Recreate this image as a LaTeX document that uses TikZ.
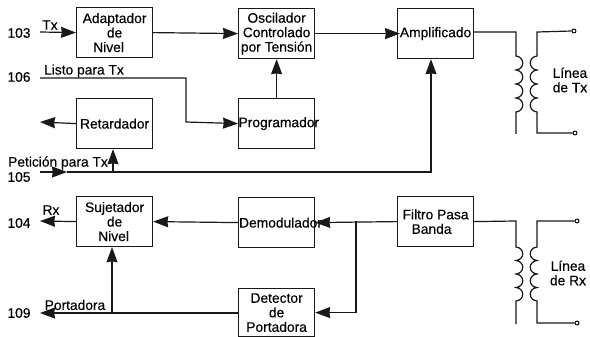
\documentclass[tikz,border=0pt]{standalone}
\usepackage{fontspec}
\setmainfont{Liberation Sans}
\newfontfamily\scanfont[FakeBold=0.3]{Liberation Sans}
\usetikzlibrary{arrows.meta,calc}
\tikzset{
  blockbox/.style={draw=black!90,line width=1.2pt,minimum width=76pt,minimum height=50pt,inner sep=0pt,align=center,font=\scanfont\fontsize{13.8}{14.5}\selectfont,anchor=north west},
  lbl/.style={inner sep=0pt,font=\scanfont\fontsize{13.8}{14.5}\selectfont,align=center,text=black},
  wire/.style={line width=1.2pt,draw=black!90},
  arr/.style={wire,-{Stealth[length=15pt,width=11pt,inset=0.8pt]}},
  term/.style={circle,draw=black,line width=0.9pt,fill=white,inner sep=0pt,minimum size=4pt},
}
\begin{document}
\begin{tikzpicture}[x=1pt,y=-1pt]
\useasboundingbox (0,0) rectangle (590,337);
% blocks
\node[blockbox] (adapt) at (76,7) {Adaptador\\de\hspace*{12pt}\\Nivel\hspace*{12pt}};
\node[blockbox] (osc) at (238,8) {Oscilador\\Controlado\\por Tensión};
\node[blockbox] (amp) at (397,8) {\makebox[76pt][c]{Amplificado}};
\node[blockbox] (ret) at (76,98) {Retardador};
\node[blockbox] (prog) at (238,98) {\makebox[76pt][l]{Programador}};
\node[blockbox] (suj) at (76,196) {Sujetador\\de\hspace*{8pt}\\Nivel\hspace*{2pt}};
\node[blockbox] (dem) at (238,197) {\makebox[76pt][l]{\hspace*{0.5pt}Demodulador}};
\node[blockbox] (fil) at (397,196) {Filtro Pasa\\Banda\hspace*{8pt}};
\node[blockbox,minimum height=48pt] (det) at (238,288) {Detector\\de\\Portadora};
% labels
\node[lbl] (n103) at (19,33) {103};
\node[lbl] (n106) at (19,77) {106};
\node[lbl] (n105) at (19,177) {105};
\node[lbl] (n104) at (19,223) {104};
\node[lbl] (n109) at (19,313) {109};
\node[lbl] (ltx) at (50,25) {Tx};
\node[lbl] (llisto) at (84,71) {Listo para Tx};
\node[lbl] (lpet) at (58,163) {Petición para Tx};
\node[lbl] (lrx) at (51,210) {Rx};
\node[lbl] (lport) at (75,305) {Portadora};
\node[lbl] (ltxline) at (570,80) {Línea\\de Tx};
\node[lbl] (lrxline) at (568,273) {Línea\\de Rx};
% free ends
\coordinate (txin) at (40,32);
\coordinate (listoin) at (40,78);
\coordinate (retout) at (40,122);
\coordinate (petin) at (40,172);
\coordinate (petmid) at (67,172);
\coordinate (rxout) at (40,221);
\coordinate (portout) at (40,313);
% terminals
\node[term] (t1) at (574,31) {};
\node[term] (t2) at (575,133) {};
\node[term] (t3) at (577,221) {};
\node[term] (t4) at (577,323) {};
% upper connectors
\draw[arr] (txin) -- (adapt.west);
\draw[arr] (adapt.east) -- (osc.west);
\draw[arr] (osc.east) -- ($(amp.west)+(3,0)$);
\draw[arr] (listoin) -| (186,122) -- (prog.west);
\draw[arr] (ret.west) -- (retout);
\draw[arr] (prog.north) -- (osc.south);
\draw[arr] (petin) -- (petmid);
\draw[arr] (petmid) -- (431,172) -- (amp.south -| 431,0);
\draw[arr] (113,172) -- (ret.south -| 113,0);
% lower connectors
\draw[arr] (suj.west) -- (rxout);
\draw[arr] (dem.west) -- (suj.east);
\draw[arr] (fil.west) -- (dem.east);
\draw[arr] (356,221) |- (det.east);
\draw[arr] (det.west |- portout) -- (portout);
\draw[arr] (112,313) -- (suj.south -| 112,0);
% transformers
\draw[wire] (amp.east |- 0,32) -- (516,32) -- (516,56)
  \foreach \k in {1,2,3,4} { .. controls +(9,1) and +(9,-1) .. ++(0,14) } -- (516,134);
\draw[wire] (t1.west) -- (537,32) -- (537,56)
  \foreach \k in {1,2,3,4} { .. controls +(-9,1) and +(-9,-1) .. ++(0,14) } |- (t2.west);
\draw[wire] (fil.east) -- (516,221) -- (516,247)
  \foreach \k in {1,2,3,4} { .. controls +(9,1) and +(9,-1) .. ++(0,13.5) } -- (516,324);
\draw[wire] (t3.west) -- (537,221) -- (537,247)
  \foreach \k in {1,2,3,4} { .. controls +(-9,1) and +(-9,-1) .. ++(0,13.5) } |- (t4.west);
\end{tikzpicture}
\end{document}
